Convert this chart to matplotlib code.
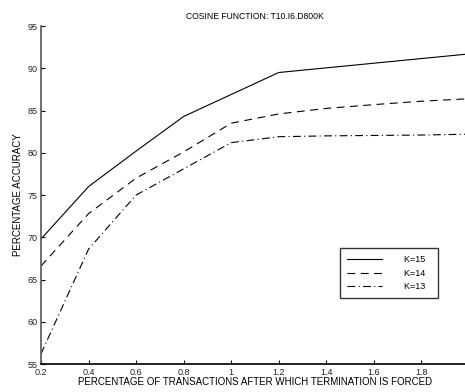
import matplotlib
matplotlib.use("Agg")
import matplotlib.pyplot as plt

plt.rcParams["font.family"] = ["Liberation Sans", "DejaVu Sans"]

# fraction of transactions after which termination is forced
x = [0.2, 0.4, 0.6, 0.8, 1.0, 1.2, 1.4, 1.6, 1.8, 2.0]

# accuracy (%) per K
k15 = [69.8, 76.0, 80.2, 84.3, 86.9, 89.5, 90.05, 90.6, 91.15, 91.7]
k14 = [66.6, 72.8, 77.0, 80.1, 83.5, 84.6, 85.25, 85.7, 86.1, 86.4]
k13 = [56.2, 68.6, 75.0, 78.1, 81.2, 81.9, 82.0, 82.05, 82.1, 82.2]

labels = ["K=15", "K=14", "K=13"]
title = "COSINE FUNCTION: T10.I6.D800K"

fig = plt.figure(figsize=(4.65, 3.92), dpi=100)
ax = fig.add_axes([0.0882, 0.0714, 0.9204, 0.8622])

lw = 0.8
ax.plot(x, k15, color="black", lw=lw, linestyle="-", label=labels[0])
ax.plot(x, k14, color="black", lw=lw, linestyle=(0, (7, 5)), label=labels[1])
ax.plot(x, k13, color="black", lw=lw, linestyle=(0, (7, 3, 1, 3)), label=labels[2])

ax.set_xlim(0.2, 2.0)
ax.set_ylim(55, 95)
ax.set_xticks([0.2, 0.4, 0.6, 0.8, 1.0, 1.2, 1.4, 1.6, 1.8])
ax.set_xticklabels(["0.2", "0.4", "0.6", "0.8", "1", "1.2", "1.4", "1.6", "1.8"])
ax.set_yticks(range(55, 96, 5))

for side in ("top", "right"):
    ax.spines[side].set_visible(False)
ax.spines["left"].set_linewidth(1.2)
ax.spines["left"].set_color("#555555")
ax.spines["bottom"].set_linewidth(1.2)

ax.tick_params(direction="in", length=3, width=0.8, labelsize=6.5,
               colors="black", labelcolor="#222222")
ax.tick_params(axis="x", pad=3)
ax.tick_params(axis="y", pad=2.5)

ax.set_title(title, fontsize=6.2, pad=5)
ax.set_xlabel("PERCENTAGE OF TRANSACTIONS AFTER WHICH TERMINATION IS FORCED",
              fontsize=7, labelpad=0)
ax.set_ylabel("PERCENTAGE ACCURACY", fontsize=7, labelpad=3)

leg = ax.legend(loc="upper left", bbox_to_anchor=(340 / 465, 1 - 248 / 392),
                bbox_transform=fig.transFigure, fontsize=6.5, frameon=True,
                fancybox=False, handlelength=3.9, handletextpad=2.4,
                borderpad=0.8, labelspacing=0.5, borderaxespad=0)
leg.get_frame().set_edgecolor("black")
leg.get_frame().set_linewidth(1.0)
# a little extra room to the right of the labels, as in the original box
for t in leg.get_texts():
    t.set_text(t.get_text() + "  ")

fig.savefig("out.png", dpi=100)
